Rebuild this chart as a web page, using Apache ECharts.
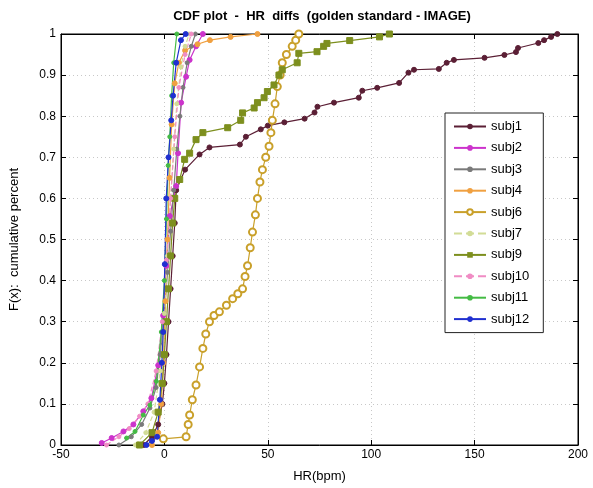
<!DOCTYPE html>
<html>
<head>
<meta charset="utf-8">
<script src="https://cdn.jsdelivr.net/npm/echarts@6/dist/echarts.min.js"></script>
<style>
html,body{margin:0;padding:0;background:#fff;}
#chart{width:593px;height:488px;}
</style>
</head>
<body>
<div id="chart"></div>
<script>
var xTicks = [-50, 0, 50, 100, 150, 200];
var yTicks = [0, 0.1, 0.2, 0.3, 0.4, 0.5, 0.6, 0.7, 0.8, 0.9, 1];
var seriesNames = ['subj1','subj2','subj3','subj4','subj6','subj7','subj9','subj10','subj11','subj12'];

var subj1X = [-10,-6,-3,-1,0,1,2,3,4,5,5.7,10,17,21.8,36.5,39.4,46.6,50,58,67.8,72.6,74,82,94,95.7,102.9,113.5,118,120.7,132.7,136.5,140,154.8,164.4,170,171,180.8,183.6,187,190];
var subj1Y = [0,0.02,0.05,0.1,0.15,0.22,0.3,0.38,0.46,0.54,0.62,0.67,0.707,0.724,0.731,0.75,0.768,0.777,0.785,0.794,0.809,0.823,0.833,0.845,0.862,0.869,0.881,0.906,0.913,0.915,0.93,0.937,0.942,0.949,0.956,0.966,0.978,0.985,0.993,1.0];

var subj2X = [-30.3,-25.5,-19.8,-15,-10.2,-6.3,-3,-0.6,0.9,2.6,5.7,6.6,8.1,10.5,12.2,15.3,18.6];
var subj2Y = [0.005,0.017,0.033,0.05,0.082,0.114,0.194,0.315,0.436,0.557,0.63,0.71,0.833,0.896,0.937,0.97,1.0];

var subj3X = [-22,-16,-11,-7,-4,-2,0,1.5,3,4.5,6,7.5,9,11,13,15];
var subj3Y = [0,0.02,0.05,0.09,0.14,0.22,0.32,0.42,0.52,0.62,0.72,0.8,0.87,0.93,0.97,1.0];

var subj4X = [-6,-3,-1.5,-0.5,0.5,1.5,2.5,3.5,5,7,10,16,22,32,45];
var subj4Y = [0,0.03,0.1,0.2,0.35,0.5,0.65,0.78,0.88,0.93,0.96,0.975,0.985,0.993,1.0];

var subj6X = [-0.5,10.5,11.5,12.2,13.5,15.3,17,18.6,20,21.8,24,26.6,30,33,35.5,37.8,39,40.2,41.5,42.6,44,45,46.2,47.4,49,50.6,51.5,52.2,53.5,54.6,56,57,59,61.8,63.5,65];
var subj6Y = [0.015,0.02,0.05,0.073,0.11,0.146,0.19,0.235,0.27,0.3,0.315,0.324,0.34,0.356,0.368,0.38,0.41,0.436,0.48,0.518,0.56,0.6,0.64,0.67,0.70,0.727,0.76,0.79,0.83,0.872,0.9,0.93,0.95,0.97,0.985,1.0];

var subj7X = [-14,-9,-5,-2,0,1.5,3,4.5,6,8,10,12];
var subj7Y = [0,0.03,0.08,0.18,0.32,0.46,0.6,0.72,0.83,0.92,0.97,1.0];

var subj9X = [-12,-6,-3,-1,0,1,2,3,4,5,7.4,9.8,12.2,15.3,18.6,30.6,36.9,37.8,43.4,45,48.2,49.8,53,55.4,57,64.2,65,73.8,77,78.6,89.6,104,108.8];
var subj9Y = [0,0.03,0.08,0.15,0.22,0.3,0.38,0.46,0.54,0.6,0.646,0.695,0.71,0.743,0.76,0.772,0.79,0.808,0.82,0.833,0.845,0.86,0.876,0.9,0.913,0.93,0.953,0.957,0.97,0.977,0.984,0.993,1.0];

var subj10X = [-28,-22,-17,-12,-8,-4,-1,1,3,5,7,10,13];
var subj10Y = [0,0.02,0.04,0.07,0.1,0.18,0.3,0.45,0.6,0.75,0.87,0.95,1.0];

var subj11X = [-18.3,-14.2,-10.2,-7,-3.9,-1.5,0,1,1.8,2.6,3.5,4.5,6];
var subj11Y = [0.017,0.033,0.073,0.097,0.155,0.275,0.4,0.55,0.68,0.75,0.85,0.93,1.0];

var subj12X = [-8.7,-6,-3.5,-2.2,-1.2,-0.6,0.2,0.9,2,3.3,4.2,5.7,8,10.3];
var subj12Y = [0,0.01,0.02,0.11,0.2,0.275,0.44,0.6,0.7,0.79,0.85,0.93,0.985,1.0];

function pairs(xs, ys){ var out=[]; for(var i=0;i<xs.length;i++){ out.push([xs[i], ys[i]]); } return out; }

var styles = [
  {x:subj1X, y:subj1Y, color:'#5b1f35', symbol:'circle', size:5, type:'solid'},
  {x:subj2X, y:subj2Y, color:'#cc33cc', symbol:'circle', size:5, type:'solid'},
  {x:subj3X, y:subj3Y, color:'#7a7a7a', symbol:'circle', size:4, type:'solid'},
  {x:subj4X, y:subj4Y, color:'#f0a040', symbol:'circle', size:5, type:'solid'},
  {x:subj6X, y:subj6Y, color:'#c9a02a', symbol:'emptyCircle', size:7, type:'solid'},
  {x:subj7X, y:subj7Y, color:'#d2dc96', symbol:'circle', size:4, type:'dashed'},
  {x:subj9X, y:subj9Y, color:'#7d8f1e', symbol:'rect', size:6, type:'solid'},
  {x:subj10X, y:subj10Y, color:'#f08cc4', symbol:'circle', size:4, type:'dashed'},
  {x:subj11X, y:subj11Y, color:'#44bb44', symbol:'circle', size:4, type:'solid'},
  {x:subj12X, y:subj12Y, color:'#2030d0', symbol:'circle', size:5, type:'solid'}
];

var series = styles.map(function(s, i){
  return {
    name: seriesNames[i],
    type: 'line',
    xAxisIndex: 0, yAxisIndex: 0,
    data: pairs(s.x, s.y),
    symbol: s.symbol,
    symbolSize: s.size,
    showSymbol: true,
    lineStyle: {color: s.color, width: 1.2, type: s.type},
    itemStyle: {color: s.color, borderColor: s.color},
    animation: false
  };
});

var font = 'Liberation Sans, Arial, sans-serif';
var chart = echarts.init(document.getElementById('chart'));
chart.setOption({
  backgroundColor: '#fff',
  animation: false,
  title: {
    text: 'CDF plot  -  HR  diffs  (golden standard - IMAGE)',
    left: 317, top: 5, textAlign: 'center',
    textStyle: {fontFamily: font, fontSize: 13, fontWeight: 'bold', color: '#000'}
  },
  grid: {left: 57, right: 15, top: 34, bottom: 41, show: true, borderColor: '#000', borderWidth: 1, backgroundColor: '#fff'},
  legend: {
    data: seriesNames,
    orient: 'vertical',
    left: 445, top: 113,
    itemWidth: 32, itemHeight: 7, itemGap: 8.4,
    padding: [7, 14, 7, 8],
    backgroundColor: '#fff',
    borderColor: '#222', borderWidth: 1,
    textStyle: {fontFamily: font, fontSize: 13, color: '#000'}
  },
  xAxis: [{
    type: 'value', min: xTicks[0], max: xTicks[xTicks.length-1], interval: 50,
    name: 'HR(bpm)', nameLocation: 'middle', nameGap: 25,
    nameTextStyle: {fontFamily: font, fontSize: 13, color: '#000'},
    axisLine: {show: true, onZero: false, lineStyle: {color: '#000'}},
    axisTick: {show: true, inside: true, length: 5, lineStyle: {color: '#000'}},
    axisLabel: {fontFamily: font, fontSize: 12, color: '#000', margin: 4},
    splitLine: {show: true, lineStyle: {color: '#c8c8c8', type: [1, 3]}}
  }, {
    type: 'value', position: 'top', min: xTicks[0], max: xTicks[xTicks.length-1], interval: 50,
    axisLine: {show: true, onZero: false, lineStyle: {color: '#000'}},
    axisTick: {show: true, inside: true, length: 5, lineStyle: {color: '#000'}},
    axisLabel: {show: false}, splitLine: {show: false}
  }],
  yAxis: [{
    type: 'value', min: yTicks[0], max: yTicks[yTicks.length-1], interval: 0.1,
    name: 'F(x):  cumulative percent', nameLocation: 'middle', nameGap: 40, nameRotate: 90,
    nameTextStyle: {fontFamily: font, fontSize: 13, color: '#000'},
    axisLine: {show: true, onZero: false, lineStyle: {color: '#000'}},
    axisTick: {show: true, inside: true, length: 5, lineStyle: {color: '#000'}},
    axisLabel: {fontFamily: font, fontSize: 12, color: '#000', margin: 5,
      formatter: function(v){ return String(Math.round(v*10)/10); }},
    splitLine: {show: true, lineStyle: {color: '#c8c8c8', type: [1, 3]}}
  }, {
    type: 'value', position: 'right', min: yTicks[0], max: yTicks[yTicks.length-1], interval: 0.1,
    axisLine: {show: true, onZero: false, lineStyle: {color: '#000'}},
    axisTick: {show: true, inside: true, length: 5, lineStyle: {color: '#000'}},
    axisLabel: {show: false}, splitLine: {show: false}
  }],
  series: series
});
</script>
</body>
</html>
